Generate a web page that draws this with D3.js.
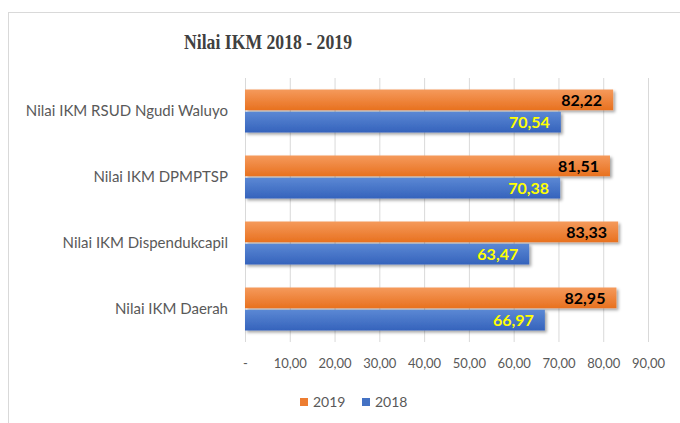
<!DOCTYPE html>
<html>
<head>
<meta charset="utf-8">
<script src="https://cdnjs.cloudflare.com/ajax/libs/d3/7.8.5/d3.min.js"></script>
<style>
  body { margin: 0; background: #fff; }
  .axisText { font-family: Lato, "Open Sans", sans-serif; fill: #595959; }
</style>
</head>
<body>
<div class="chart"></div>
<script>
// chart data
var categories = ["Nilai IKM RSUD Ngudi Waluyo", "Nilai IKM DPMPTSP", "Nilai IKM Dispendukcapil", "Nilai IKM Daerah"];
var values2019 = [82.22, 81.51, 83.33, 82.95];
var values2018 = [70.54, 70.38, 63.47, 66.97];
var seriesNames = ["2019", "2018"];
var xTicks = [0, 10, 20, 30, 40, 50, 60, 70, 80, 90];

var svgWidth = 680;
var svgHeight = 423;

var margin = { top: 78, bottom: 81, right: 32, left: 245 };
var width = svgWidth - margin.left - margin.right;
var height = svgHeight - margin.top - margin.bottom;

var svg = d3.select(".chart")
  .append("svg")
  .attr("width", svgWidth)
  .attr("height", svgHeight);

// gradients and shadow
var defs = svg.append("defs");
function addGradient(id, top, bottom) {
  var g = defs.append("linearGradient").attr("id", id)
    .attr("x1", 0).attr("y1", 0).attr("x2", 0).attr("y2", 1);
  g.append("stop").attr("offset", "0%").attr("stop-color", top);
  g.append("stop").attr("offset", "100%").attr("stop-color", bottom);
}
addGradient("grad2019", "#F59A5C", "#E8711F");
addGradient("grad2018", "#5B88D4", "#3563BC");

var shadow = defs.append("filter").attr("id", "shadow")
  .attr("x", "-5%").attr("y", "-20%").attr("width", "115%").attr("height", "160%");
shadow.append("feDropShadow")
  .attr("dx", 2).attr("dy", 2).attr("stdDeviation", 1.5)
  .attr("flood-color", "#000").attr("flood-opacity", 0.35);

// chart border
svg.append("rect")
  .attr("x", 8.5).attr("y", 12.5)
  .attr("width", 700).attr("height", 450)
  .attr("fill", "none")
  .attr("stroke", "#D9D9D9");

// title
svg.append("text")
  .attr("x", 268)
  .attr("y", 49)
  .attr("text-anchor", "middle")
  .attr("font-family", "'Liberation Serif', 'Times New Roman', serif")
  .attr("font-weight", "bold")
  .attr("font-size", "22px")
  .attr("textLength", 168)
  .attr("lengthAdjust", "spacingAndGlyphs")
  .attr("fill", "#404040")
  .text("Nilai IKM 2018 - 2019");

var chartGroup = svg.append("g")
  .attr("transform", `translate(${margin.left}, ${margin.top})`);

// scales
var xLinearScale = d3.scaleLinear()
  .domain([0, 90])
  .range([0, 403]);

var yBandScale = d3.scaleBand()
  .domain(categories)
  .range([0, height]);

var ySeries = d3.scaleBand()
  .domain(seriesNames)
  .range([yBandScale.bandwidth() / 2 - 21.5, yBandScale.bandwidth() / 2 + 21.5])
  .paddingInner(0.07);

// gridlines
var fmt = function(d) { return d === 0 ? "-" : d3.format(".2f")(d).replace(".", ","); };
var xAxis = d3.axisBottom(xLinearScale)
  .tickValues(xTicks)
  .tickSize(height)
  .tickFormat(fmt);

var axisGroup = chartGroup.append("g").call(xAxis);
axisGroup.select(".domain").remove();
axisGroup.selectAll(".tick line")
  .attr("stroke", "#D9D9D9");
axisGroup.selectAll(".tick text")
  .attr("class", "axisText")
  .attr("font-size", "13px")
  .attr("y", height + 17);

// category labels
chartGroup.selectAll(".catLabel")
  .data(categories)
  .enter()
  .append("text")
  .attr("class", "axisText catLabel")
  .attr("x", -17)
  .attr("y", d => yBandScale(d) + yBandScale.bandwidth() / 2)
  .attr("dy", "0.35em")
  .attr("text-anchor", "end")
  .attr("font-size", "15px")
  .text(d => d);

// bars
var series = [
  { name: "2019", values: values2019, fill: "url(#grad2019)", labelColor: "#000" },
  { name: "2018", values: values2018, fill: "url(#grad2018)", labelColor: "#FFFF00" }
];

series.forEach(function(s) {
  var rows = categories.map((c, i) => ({ cat: c, value: s.values[i] }));

  chartGroup.selectAll(".bar" + s.name)
    .data(rows)
    .enter()
    .append("rect")
    .attr("x", 0)
    .attr("y", d => yBandScale(d.cat) + ySeries(s.name))
    .attr("width", d => xLinearScale(d.value))
    .attr("height", ySeries.bandwidth())
    .attr("fill", s.fill)
    .attr("filter", "url(#shadow)");

  chartGroup.selectAll(".label" + s.name)
    .data(rows)
    .enter()
    .append("text")
    .attr("x", d => xLinearScale(d.value) - 11)
    .attr("y", d => yBandScale(d.cat) + ySeries(s.name) + ySeries.bandwidth() / 2)
    .attr("dy", "0.36em")
    .attr("text-anchor", "end")
    .attr("font-family", "Lato, 'Open Sans', sans-serif")
    .attr("font-weight", "bold")
    .attr("font-size", "16px")
    .attr("fill", s.labelColor)
    .text(d => d3.format(".2f")(d.value).replace(".", ","));
});

// legend
var legend = svg.append("g").attr("transform", "translate(300, 402)");
var legendItems = [
  { name: "2019", color: "#ED7D31", x: 0 },
  { name: "2018", color: "#4472C4", x: 62 }
];
legendItems.forEach(function(item) {
  legend.append("rect")
    .attr("x", item.x)
    .attr("y", -4)
    .attr("width", 8)
    .attr("height", 8)
    .attr("fill", item.color);
  legend.append("text")
    .attr("class", "axisText")
    .attr("x", item.x + 13)
    .attr("y", 0)
    .attr("dy", "0.36em")
    .attr("font-size", "14px")
    .text(item.name);
});
</script>
</body>
</html>
